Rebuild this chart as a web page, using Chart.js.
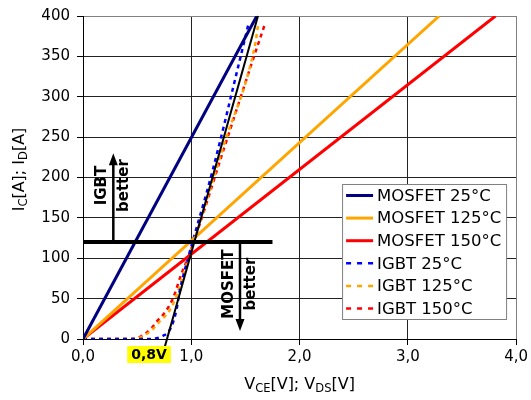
<!DOCTYPE html>
<html>
<head>
<meta charset="utf-8">
<script src="https://cdn.jsdelivr.net/npm/chart.js@4.4.0/dist/chart.umd.min.js"></script>
<style>
  body { margin: 0; background: #fff; }
  #wrap { width: 531px; height: 400px; }
</style>
</head>
<body>
<div id="wrap"><canvas id="chart" width="531" height="400"></canvas></div>
<script>
// MOSFET curves: straight lines through the origin
const mosfetI = [0, 400];
const mosfet25V = [0, 1.605];
const mosfet125V = [0, 3.29];
const mosfet150V = [0, 3.81];

// IGBT curves
const igbt25V = [0, 0.62, 0.68, 0.74, 0.79, 0.83, 0.863, 0.894, 0.93, 0.97, 1.2, 1.44, 1.53];
const igbt25I = [0, 0, 1, 4, 9, 20, 36, 60, 80, 100, 210, 341, 391];
const igbt125V = [0, 0.45, 0.55, 0.65, 0.71, 0.77, 0.82, 0.87, 0.91, 0.98, 1.3, 1.59, 1.616];
const igbt125I = [0, 0, 3, 13, 22, 30, 40, 56, 73, 102, 240, 365, 388];
const igbt150V = [0, 0.4, 0.49, 0.57, 0.63, 0.69, 0.74, 0.83, 0.91, 0.98, 1.3, 1.555, 1.68];
const igbt150I = [0, 0, 1, 6, 13, 23, 30, 50, 81, 104, 235, 340, 390];

// linear approximation of the IGBT (0,8V knee)
const approxV = [0.755, 1.616];
const approxI = [-10, 400];

// crossover bar and "better" arrows
const barV = [0, 1.75];
const barI = [120, 120];
const arrowV = [0.28, 1.45];
const arrowFrom = [120, 120];
const arrowTo = [230, 10];
const arrowText = [["IGBT", "better"], ["MOSFET", "better"]];
const arrowTextI = [190, 68];

const kneeLabel = "0,8V";
const kneeLabelV = 0.61;

const xTicks = [0, 1, 2, 3, 4];
const yTicks = [0, 50, 100, 150, 200, 250, 300, 350, 400];

const labels = ["MOSFET 25°C", "MOSFET 125°C", "MOSFET 150°C", "IGBT 25°C", "IGBT 125°C", "IGBT 150°C"];
const colors = ["#000080", "#FFA500", "#FF0000", "#0000FF", "#FFA500", "#FF0000"];

const pts = (vs, is) => vs.map((v, i) => ({ x: v, y: is[i] }));

const FONT = "'DejaVu Sans', 'Liberation Sans', Arial, sans-serif";
Chart.defaults.font.family = FONT;
Chart.defaults.color = "#000";

function solid(label, color, data) {
    return { label, data, borderColor: color, borderWidth: 3, pointRadius: 0, tension: 0, order: 2 };
}
function dashed(label, color, data) {
    return { label, data, borderColor: color, borderWidth: 2.5, borderDash: [4, 4], pointRadius: 0,
             cubicInterpolationMode: "monotone", order: 3 };
}

const datasets = [
    solid(labels[0], colors[0], pts(mosfet25V, mosfetI)),
    solid(labels[1], colors[1], pts(mosfet125V, mosfetI)),
    solid(labels[2], colors[2], pts(mosfet150V, mosfetI)),
    dashed(labels[3], colors[3], pts(igbt25V, igbt25I)),
    dashed(labels[4], colors[4], pts(igbt125V, igbt125I)),
    dashed(labels[5], colors[5], pts(igbt150V, igbt150I)),
    { label: "approx", data: pts(approxV, approxI), borderColor: "#000", borderWidth: 2, pointRadius: 0, clip: false, order: 0 },
    { label: "bar", data: pts(barV, barI), borderColor: "#000", borderWidth: 4, pointRadius: 0, order: 0 }
];

// draw text made of normal and subscript parts, centred on x
function drawSubText(ctx, parts, cx, baseY) {
    const big = "16px " + FONT, small = "11.5px " + FONT;
    let w = 0;
    parts.forEach(p => { ctx.font = p.sub ? small : big; w += ctx.measureText(p.t).width; });
    let x = cx - w / 2;
    ctx.textAlign = "left";
    ctx.textBaseline = "alphabetic";
    parts.forEach(p => {
        ctx.font = p.sub ? small : big;
        ctx.fillText(p.t, x, p.sub ? baseY + 3 : baseY);
        x += ctx.measureText(p.t).width;
    });
}

const extras = {
    id: "extras",
    afterDatasetsDraw(chart) {
        const { ctx, scales: { x, y } } = chart;
        ctx.save();
        ctx.fillStyle = "#000";
        ctx.strokeStyle = "#000";
        arrowV.forEach((v, i) => {
            const px = x.getPixelForValue(v);
            const y0 = y.getPixelForValue(arrowFrom[i]);
            const y1 = y.getPixelForValue(arrowTo[i]);
            const dir = y1 < y0 ? 1 : -1;
            ctx.lineWidth = 2.5;
            ctx.beginPath();
            ctx.moveTo(px, y0);
            ctx.lineTo(px, y1 + dir * 10);
            ctx.stroke();
            ctx.beginPath();
            ctx.moveTo(px, y1);
            ctx.lineTo(px - 4.5, y1 + dir * 12);
            ctx.lineTo(px + 4.5, y1 + dir * 12);
            ctx.closePath();
            ctx.fill();

            const cy = y.getPixelForValue(arrowTextI[i]);
            ctx.font = "bold 15px " + FONT;
            ctx.textAlign = "center";
            ctx.textBaseline = "middle";
            [[arrowText[i][0], -11], [arrowText[i][1], 11]].forEach(([t, dx]) => {
                ctx.save();
                ctx.translate(px + dx, cy);
                ctx.rotate(-Math.PI / 2);
                ctx.fillText(t, 0, 0);
                ctx.restore();
            });
        });
        ctx.restore();
    },
    afterDraw(chart) {
        const { ctx, chartArea: a, scales: { x, y } } = chart;
        ctx.save();

        // knee label
        ctx.font = "bold 14px " + FONT;
        const kx = x.getPixelForValue(kneeLabelV);
        const kw = ctx.measureText(kneeLabel).width + 8;
        ctx.fillStyle = "#FFFF00";
        ctx.fillRect(kx - kw / 2, a.bottom + 7, kw, 17);
        ctx.fillStyle = "#000";
        ctx.textAlign = "center";
        ctx.textBaseline = "middle";
        ctx.fillText(kneeLabel, kx, a.bottom + 16);

        // legend
        const lx = a.right - 174, ly = a.top + 168, lw = 164, lh = 135;
        ctx.fillStyle = "#fff";
        ctx.fillRect(lx, ly, lw, lh);
        ctx.strokeStyle = "#808080";
        ctx.lineWidth = 1;
        ctx.strokeRect(lx + 0.5, ly + 0.5, lw, lh);
        ctx.font = "16.5px " + FONT;
        ctx.textAlign = "left";
        ctx.textBaseline = "middle";
        labels.forEach((lab, i) => {
            const cy = ly + 11.5 + i * 22.6;
            ctx.strokeStyle = colors[i];
            ctx.lineWidth = i < 3 ? 3 : 2.5;
            ctx.setLineDash(i < 3 ? [] : [5, 6]);
            ctx.beginPath();
            ctx.moveTo(lx + 4, cy);
            ctx.lineTo(lx + 31, cy);
            ctx.stroke();
            ctx.setLineDash([]);
            ctx.fillStyle = "#000";
            ctx.fillText(lab, lx + 35, cy + 1);
        });

        // axis titles
        ctx.fillStyle = "#000";
        drawSubText(ctx, [{ t: "V" }, { t: "CE", sub: true }, { t: "[V]; V" }, { t: "DS", sub: true }, { t: "[V]" }],
            (a.left + a.right) / 2, 389);
        ctx.save();
        ctx.translate(24, (a.top + a.bottom) / 2 - 8);
        ctx.rotate(-Math.PI / 2);
        drawSubText(ctx, [{ t: "I" }, { t: "C", sub: true }, { t: "[A]; I" }, { t: "D", sub: true }, { t: "[A]" }], 0, 0);
        ctx.restore();

        ctx.restore();
    }
};

new Chart("chart", {
    type: "line",
    data: { datasets },
    options: {
        responsive: false,
        devicePixelRatio: 1,
        animation: false,
        layout: { padding: { top: 15, right: 14, left: 0, bottom: 0 } },
        plugins: { legend: { display: false }, tooltip: { enabled: false } },
        scales: {
            x: {
                type: "linear",
                min: 0,
                max: 4,
                afterFit: (s) => { s.height = 61; },
                afterBuildTicks: (s) => { s.ticks = xTicks.map(v => ({ value: v })); },
                grid: {
                    color: (c) => c.tick && c.tick.value === 4 ? "#808080" : "#222",
                    tickColor: "#000",
                    tickLength: 6
                },
                border: { color: "#000", width: 1 },
                ticks: {
                    font: { size: 15 },
                    padding: 3,
                    maxRotation: 0,
                    callback: (v) => v.toFixed(1).replace(".", ",")
                }
            },
            y: {
                min: 0,
                max: 400,
                afterFit: (s) => { s.width = 83; },
                afterBuildTicks: (s) => { s.ticks = yTicks.map(v => ({ value: v })); },
                grid: {
                    color: (c) => c.tick && c.tick.value === 400 ? "#808080" : "#222",
                    tickColor: "#000",
                    tickLength: 6
                },
                border: { color: "#000", width: 1 },
                ticks: { font: { size: 15 }, padding: 7 }
            }
        }
    },
    plugins: [extras]
});
</script>
</body>
</html>
